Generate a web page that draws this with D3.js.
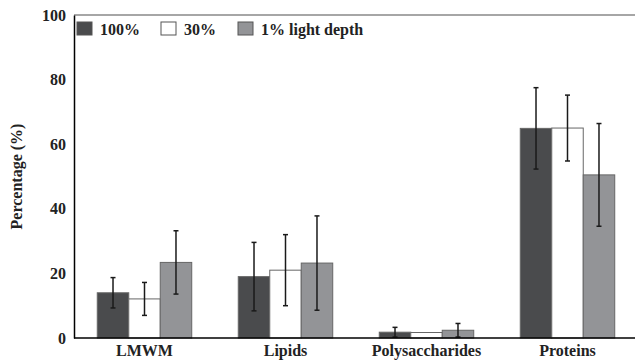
<!DOCTYPE html>
<html><head><meta charset="utf-8">
<script src="https://cdn.jsdelivr.net/npm/d3@7"></script>
<style>body{margin:0;background:#fff}svg text{font-family:"Liberation Serif","Times New Roman",serif;font-weight:bold}</style>
</head><body><svg id="c" width="635" height="360"></svg>
<script>
const categories = ["LMWM", "Lipids", "Polysaccharides", "Proteins"];
const seriesNames = ["100%", "30%", "1% light depth"];
const values100 = [14.0, 19.0, 1.8, 64.9];
const values30 = [12.1, 21.0, 1.7, 65.0];
const values1 = [23.4, 23.2, 2.4, 50.5];
const err100 = [4.7, 10.6, 1.5, 12.6];
const err30 = [5.1, 11.0, 0, 10.2];
const err1 = [9.8, 14.6, 2.1, 15.9];
const yTicks = [0, 20, 40, 60, 80, 100];
const colors = ["#4a4b4d", "#ffffff", "#939497"];

(function () {
const svg = d3.select("#c");
const FS = 16;
const mL = 74, mR = 638, mT = 15, mB = 338;
const x0 = d3.scaleBand().domain(categories).range([mL, mR]).paddingInner(0.33).paddingOuter(0.165);
const x1 = d3.scaleBand().domain(seriesNames).range([0, x0.bandwidth()]);
const y = d3.scaleLinear().domain([0, 100]).range([mB, mT]);

const vals = [values100, values30, values1];
const errs = [err100, err30, err1];
const data = [];
categories.forEach((c, i) => seriesNames.forEach((s, j) => data.push({c, s, j, v: vals[j][i], e: errs[j][i]})));

svg.append("line").attr("x1", mL).attr("x2", 635).attr("y1", y(100)).attr("y2", y(100))
  .attr("stroke", "#888").attr("stroke-width", 1.5);

svg.append("g").selectAll("rect").data(data).join("rect")
  .attr("x", d => x0(d.c) + x1(d.s))
  .attr("y", d => y(d.v))
  .attr("width", x1.bandwidth())
  .attr("height", d => y(0) - y(d.v))
  .attr("fill", d => colors[d.j])
  .attr("stroke", "#666").attr("stroke-width", 1);

const eb = svg.append("g").attr("stroke", "#1a1a1a").attr("stroke-width", 1.5);
data.filter(d => d.e > 0).forEach(d => {
  const cx = x0(d.c) + x1(d.s) + x1.bandwidth() / 2;
  eb.append("line").attr("x1", cx).attr("x2", cx).attr("y1", y(d.v + d.e)).attr("y2", y(Math.max(0, d.v - d.e)));
  [d.v + d.e, d.v - d.e].forEach(t => {
    eb.append("line").attr("x1", cx - 2.5).attr("x2", cx + 2.5).attr("y1", y(t)).attr("y2", y(t));
  });
});

const ya = svg.append("g").attr("transform", `translate(${mL},0)`)
  .call(d3.axisLeft(y).tickValues(yTicks).tickSize(0).tickPadding(8));
ya.select(".domain").attr("stroke", "#000").attr("stroke-width", 1.5);
ya.selectAll("text").attr("font-size", FS).attr("fill", "#222").attr("font-family", "Liberation Serif").attr("font-weight", "bold");

const xa = svg.append("g").attr("transform", `translate(0,${mB})`)
  .call(d3.axisBottom(x0).tickSize(0).tickPadding(7));
xa.select(".domain").attr("stroke", "#000").attr("stroke-width", 1.5).attr("d", `M${mL},0H635`);
xa.selectAll("text").attr("font-size", FS).attr("fill", "#222").attr("font-family", "Liberation Serif").attr("font-weight", "bold");

svg.append("text").attr("transform", `translate(22,${(mT + mB) / 2}) rotate(-90)`)
  .attr("text-anchor", "middle").attr("font-size", FS).attr("fill", "#222").text("Percentage (%)");

const legX = [77, 161, 238];
const lg = svg.append("g");
seriesNames.forEach((s, j) => {
  lg.append("rect").attr("x", legX[j]).attr("y", 22).attr("width", 15).attr("height", 13)
    .attr("fill", colors[j]).attr("stroke", "#555").attr("stroke-width", 1);
  lg.append("text").attr("x", legX[j] + 23).attr("y", 35).attr("font-size", FS).attr("fill", "#222").text(s);
});
})();
</script></body></html>
